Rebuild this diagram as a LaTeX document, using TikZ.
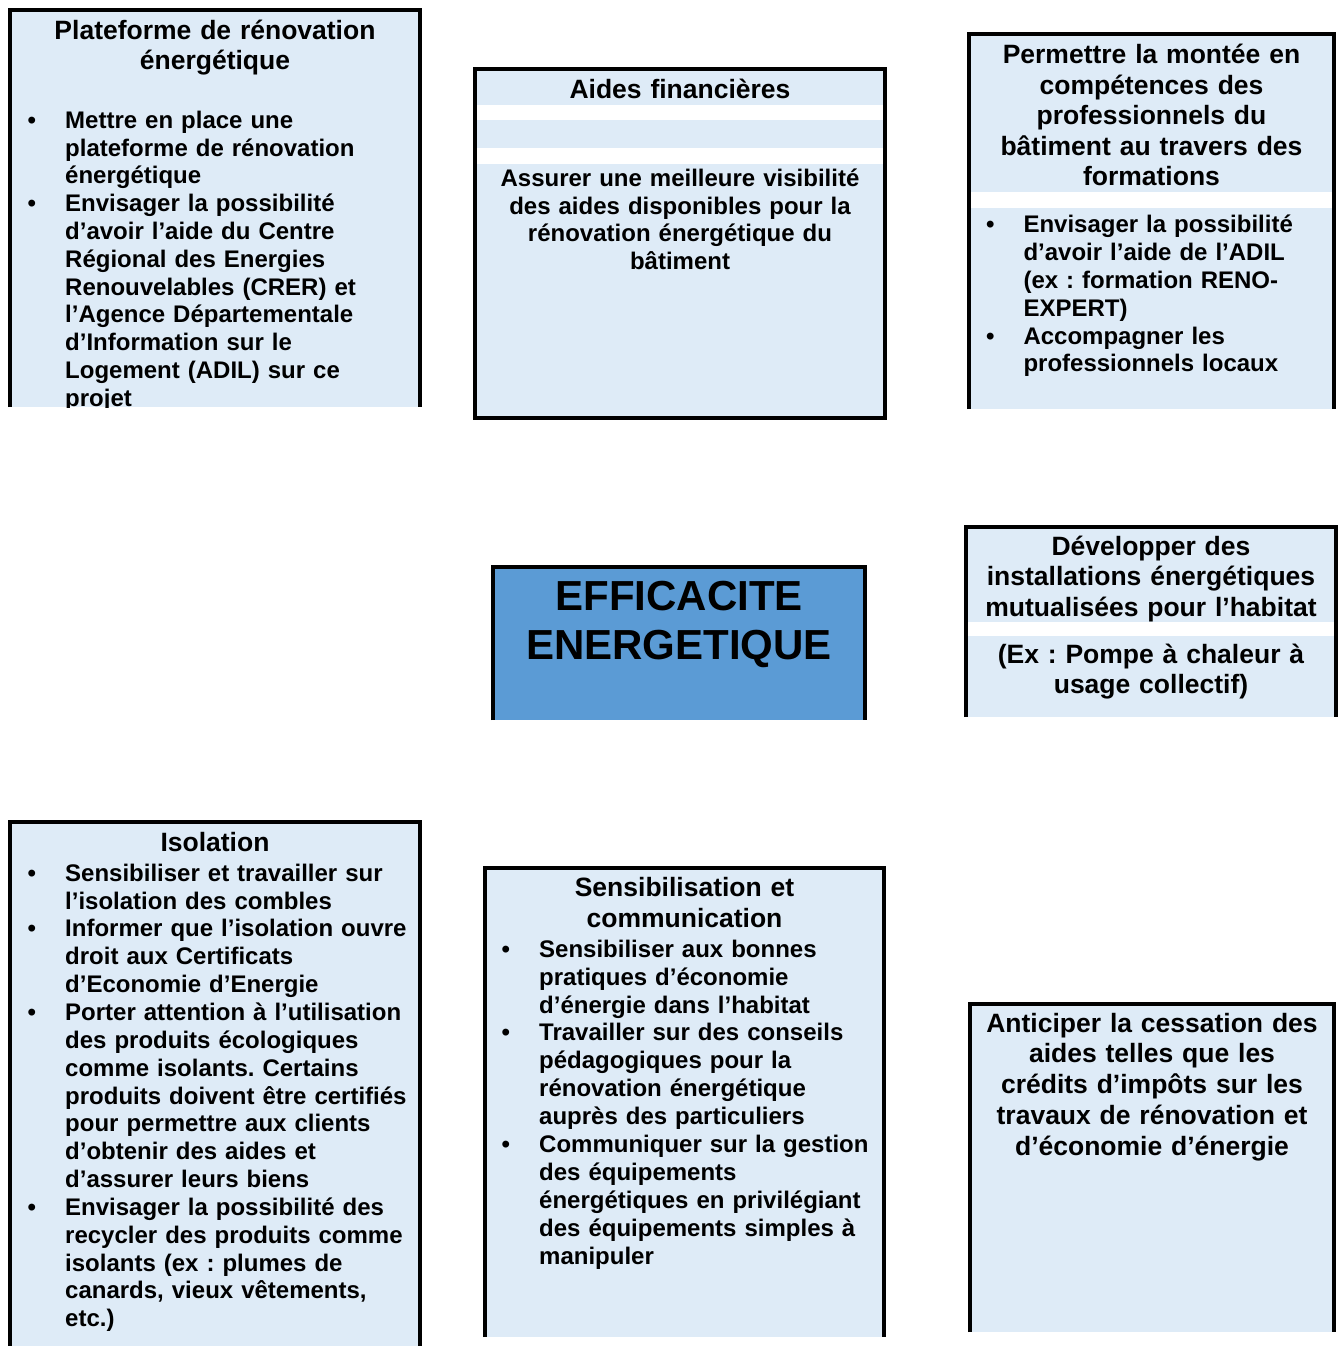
\documentclass[tikz,border=0pt]{standalone}
\usepackage{fontspec}
\setmainfont{Liberation Sans}
\frenchspacing
\definecolor{lightblue}{RGB}{222,235,247}
\definecolor{centerblue}{RGB}{91,155,213}
\newcommand\ttlfontat[1]{\fontsize{26.5}{#1}\selectfont\bfseries}
\newcommand\bodyfontat[1]{\fontsize{24}{#1}\selectfont\bfseries\frenchspacing}
\newcommand\tstrut{\rule{0pt}{21pt}}
\newcommand\bitem[1]{\leftskip=37.5pt\noindent\hspace*{-37.5pt}\makebox[37.5pt][l]{\tstrut•}#1\par}
\tikzset{
  frame/.style={draw=black, line width=4pt, line join=miter},
  ctext/.style={anchor=north, inner sep=0pt, text width=420pt, align=center},
  blist/.style={anchor=north west, inner sep=0pt, text width=430pt, align=left},
}
\begin{document}
\begin{tikzpicture}[x=1pt,y=-1pt]
\fill[white] (0,0) rectangle (1342,1346);
\useasboundingbox (0,0) rectangle (1342,1346);

% ---------- Box 1 : Plateforme
\fill[lightblue] (10,10) rectangle (420,407);
\draw[frame] (10,407) -- (10,10) -- (420,10) -- (420,407);
\begin{scope}
\clip (0,0) rectangle (1342,407);
\node[ctext, font=\ttlfontat{30}] (plat-title) at (215,18.5)
  {\tstrut Plateforme de rénovation\\énergétique};
\node[blist, font=\bodyfontat{27.8}] (plat-list) at (27.5,107)
  {\bitem{Mettre en place une\\plateforme de rénovation\\énergétique}%
   \bitem{Envisager la possibilité\\d’avoir l’aide du Centre\\Régional des Energies\\Renouvelables (CRER) et\\l’Agence Départementale\\d’Information sur le\\Logement (ADIL) sur ce\\projet}};
\end{scope}

% ---------- Box 2 : Aides financieres
\draw[frame, fill=lightblue] (475,69.5) rectangle (885,418);
\fill[white] (477,105) rectangle (883,120);
\fill[white] (477,148) rectangle (883,164);
\node[ctext, font=\ttlfontat{30.5}] (aides-title) at (680,77.5)
  {\tstrut Aides financières};
\node[ctext, font=\bodyfontat{27.6}] (aides-text) at (680,165.5)
  {\tstrut Assurer une meilleure visibilité\\des aides disponibles pour la\\rénovation énergétique du\\bâtiment};

% ---------- Box 3 : Permettre
\fill[lightblue] (969,34) rectangle (1334,409);
\fill[white] (971,192) rectangle (1332,208);
\draw[frame] (969,409) -- (969,34) -- (1334,34) -- (1334,409);
\node[ctext, font=\ttlfontat{30.5}] (perm-title) at (1151.5,42.5)
  {\tstrut Permettre la montée en\\compétences des\\professionnels du\\bâtiment au travers des\\formations};
\node[blist, font=\bodyfontat{27.95}] (perm-list) at (985.8,211)
  {\bitem{Envisager la possibilité\\d’avoir l’aide de l’ADIL\\(ex : formation RENO-\\EXPERT)}%
   \bitem{Accompagner les\\professionnels locaux}};

% ---------- Box 4 : centre
\fill[centerblue] (493,567) rectangle (865,720);
\draw[frame] (493,720) -- (493,567) -- (865,567) -- (865,720);
\node[ctext, font={\fontsize{42}{49}\selectfont\bfseries}] (centre) at (679,574)
  {\rule{0pt}{36pt}EFFICACITE\\ENERGETIQUE};

% ---------- Box 5 : Developper
\fill[lightblue] (966,527) rectangle (1336,717);
\fill[white] (968,622) rectangle (1334,636);
\draw[frame] (966,717) -- (966,527) -- (1336,527) -- (1336,717);
\node[ctext, font=\ttlfontat{30.5}] (dev-title) at (1151,534)
  {\tstrut Développer des\\installations énergétiques\\mutualisées pour l’habitat};
\node[ctext, font=\ttlfontat{30.5}] (dev-text) at (1151,642)
  {\tstrut (Ex : Pompe à chaleur à\\usage collectif)};

% ---------- Box 6 : Isolation
\fill[lightblue] (10,822) rectangle (420,1346);
\draw[frame] (10,1346) -- (10,822) -- (420,822) -- (420,1346);
\node[ctext, font=\ttlfontat{30}] (iso-title) at (215,830)
  {\tstrut Isolation};
\node[blist, font=\bodyfontat{27.85}] (iso-list) at (27.5,860)
  {\bitem{Sensibiliser et travailler sur\\l’isolation des combles}%
   \bitem{Informer que l’isolation ouvre\\droit aux Certificats\\d’Economie d’Energie}%
   \bitem{Porter attention à l’utilisation\\des produits écologiques\\comme isolants. Certains\\produits doivent être certifiés\\pour permettre aux clients\\d’obtenir des aides et\\d’assurer leurs biens}%
   \bitem{Envisager la possibilité des\\recycler des produits comme\\isolants (ex : plumes de\\canards, vieux vêtements,\\etc.)}};

% ---------- Box 7 : Sensibilisation
\fill[lightblue] (485,868) rectangle (884,1337);
\draw[frame] (485,1337) -- (485,868) -- (884,868) -- (884,1337);
\node[ctext, font=\ttlfontat{30.5}] (sens-title) at (684.5,875.5)
  {\tstrut Sensibilisation et\\communication};
\node[blist, font=\bodyfontat{27.9}] (sens-list) at (501.5,936)
  {\bitem{Sensibiliser aux bonnes\\pratiques d’économie\\d’énergie dans l’habitat}%
   \bitem{Travailler sur des conseils\\pédagogiques pour la\\rénovation énergétique\\auprès des particuliers}%
   \bitem{Communiquer sur la gestion\\des équipements\\énergétiques en privilégiant\\des équipements simples à\\manipuler}};

% ---------- Box 8 : Anticiper
\fill[lightblue] (970,1004) rectangle (1334,1332);
\draw[frame] (970,1332) -- (970,1004) -- (1334,1004) -- (1334,1332);
\node[ctext, font=\ttlfontat{30.75}] (anti-text) at (1152,1011)
  {\tstrut Anticiper la cessation des\\aides telles que les\\crédits d’impôts sur les\\travaux de rénovation et\\d’économie d’énergie};
\end{tikzpicture}
\end{document}
